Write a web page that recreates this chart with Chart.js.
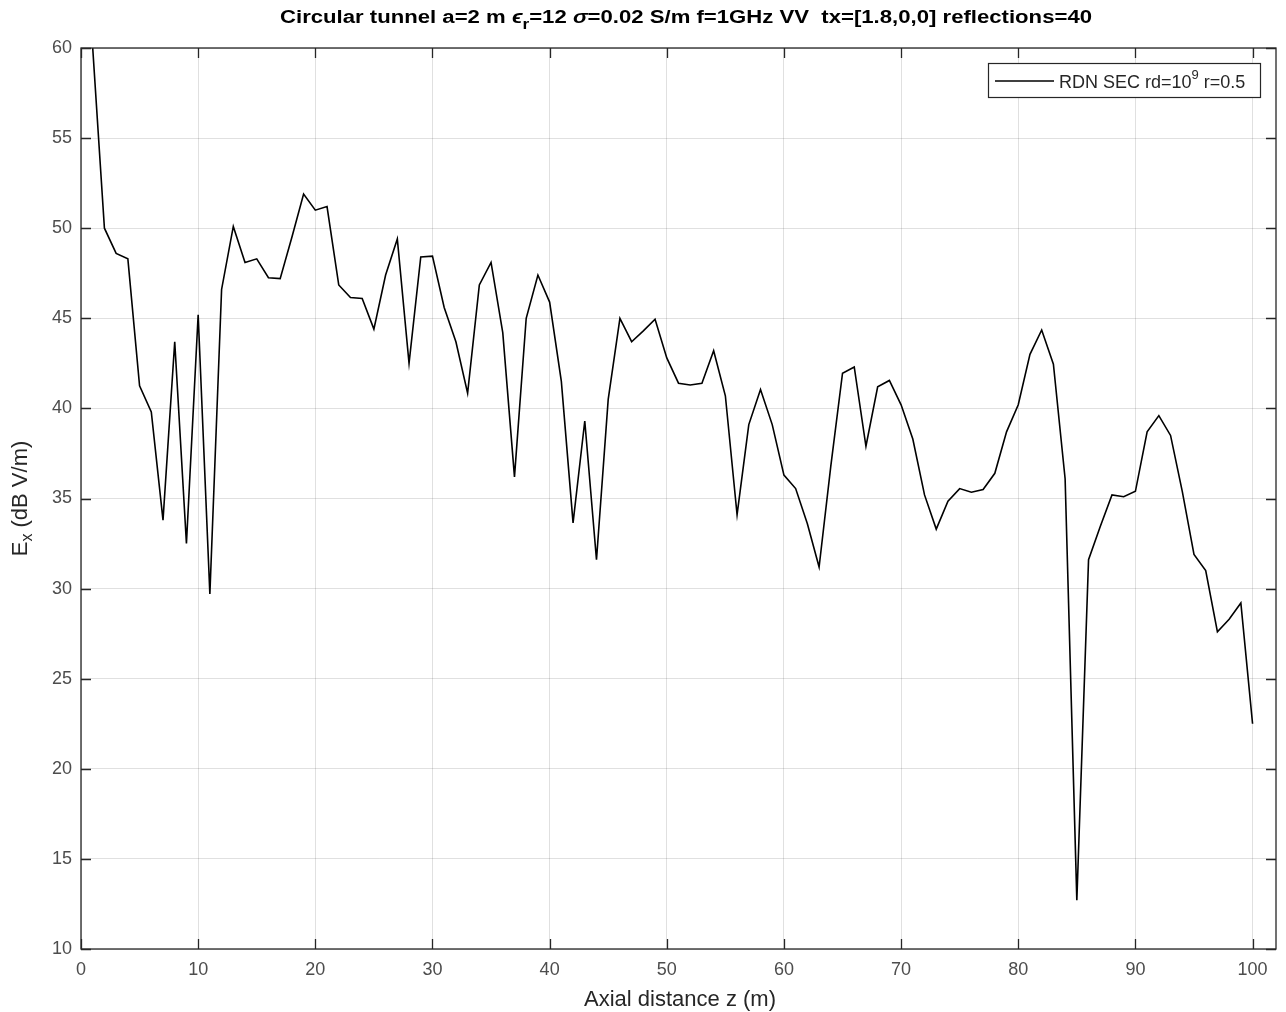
<!DOCTYPE html>
<html>
<head>
<meta charset="utf-8">
<script src="https://cdn.jsdelivr.net/npm/chart.js@4"></script>
<style>
  html, body { margin: 0; padding: 0; background: #fff; }
  canvas { display: block; }
</style>
</head>
<body>
<canvas id="grafico" width="1286" height="1012"></canvas>
<script>
// axial distance z (m), one sample per metre
const zPos = Array.from({ length: 100 }, (_, i) => i + 1);

// Ex (dB V/m)
const exField = [
  60.0, 50.0, 48.6, 48.3, 41.25, 39.8, 33.8, 43.7, 32.5, 45.2,
  29.7, 46.6, 50.1, 48.1, 48.3, 47.25, 47.2, 49.5, 51.9, 51.0,
  51.2, 46.85, 46.15, 46.1, 44.4, 47.4, 49.4, 42.5, 48.4, 48.45,
  45.6, 43.7, 40.85, 46.85, 48.1, 44.2, 36.2, 45.0, 47.4, 45.9,
  41.5, 33.65, 39.3, 31.6, 40.5, 45.0, 43.7, 44.3, 44.95, 42.8,
  41.4, 41.3, 41.4, 43.2, 40.7, 34.1, 39.1, 41.05, 39.1, 36.3,
  35.55, 33.6, 31.2, 36.8, 41.95, 42.3, 37.9, 41.2, 41.55, 40.2,
  38.3, 35.2, 33.3, 34.85, 35.55, 35.35, 35.5, 36.4, 38.7, 40.2,
  43.0, 44.35, 42.45, 36.1, 12.7, 31.6, 33.45, 35.2, 35.1, 35.4,
  38.7, 39.6, 38.5, 35.4, 31.9, 31.0, 27.6, 28.3, 29.2, 22.5
];

const xTicks = [0, 10, 20, 30, 40, 50, 60, 70, 80, 90, 100];
const yTicks = [10, 15, 20, 25, 30, 35, 40, 45, 50, 55, 60];

const FONT = '"Liberation Sans", Arial, Helvetica, sans-serif';
const AXIS_COLOR = '#262626';

// draws text pieces one after another: [text, size, weight, style, dy]
function drawPieces(ctx, pieces, x, y, align, fitWidth) {
  const widths = pieces.map(p => {
    ctx.font = `${p[3] || 'normal'} ${p[2] || 'normal'} ${p[1]}px ${FONT}`;
    return ctx.measureText(p[0]).width;
  });
  const total = widths.reduce((a, b) => a + b, 0);
  const sx = fitWidth ? fitWidth / total : 1;
  let start = align === 'center' ? x - total * sx / 2 : x;
  ctx.save();
  ctx.translate(start, y);
  ctx.scale(sx, 1);
  let cx = 0;
  pieces.forEach((p, i) => {
    ctx.font = `${p[3] || 'normal'} ${p[2] || 'normal'} ${p[1]}px ${FONT}`;
    ctx.fillText(p[0], cx, p[4] || 0);
    cx += widths[i];
  });
  ctx.restore();
}

const decorPlugin = {
  id: 'decor',
  afterDraw(chart) {
    const ctx = chart.ctx;
    const a = chart.chartArea;
    const xs = chart.scales.x;
    const ys = chart.scales.y;

    ctx.save();
    // box and inward ticks
    ctx.strokeStyle = AXIS_COLOR;
    ctx.lineWidth = 1.3;
    ctx.strokeRect(a.left, a.top, a.right - a.left, a.bottom - a.top);
    ctx.beginPath();
    xTicks.forEach(v => {
      const px = Math.round(xs.getPixelForValue(v)) + 0.5;
      ctx.moveTo(px, a.bottom); ctx.lineTo(px, a.bottom - 10);
      ctx.moveTo(px, a.top); ctx.lineTo(px, a.top + 10);
    });
    yTicks.forEach(v => {
      const py = Math.round(ys.getPixelForValue(v)) + 0.5;
      ctx.moveTo(a.left, py); ctx.lineTo(a.left + 10, py);
      ctx.moveTo(a.right, py); ctx.lineTo(a.right - 10, py);
    });
    ctx.stroke();

    // title
    ctx.fillStyle = '#000';
    ctx.textBaseline = 'middle';
    drawPieces(ctx, [
      ['Circular tunnel a=2 m ', 18, 'bold'],
      ['\u03F5', 18, 'bold', 'italic'],
      ['r', 14, 'bold', 'normal', 7],
      ['=12 ', 18, 'bold'],
      ['\u03C3', 18, 'bold', 'italic'],
      ['=0.02 S/m f=1GHz VV  tx=[1.8,0,0] reflections=40', 18, 'bold']
    ], 686, 18, 'center', 812);

    // axis labels
    ctx.fillStyle = AXIS_COLOR;
    ctx.textAlign = 'left';
    drawPieces(ctx, [['Axial distance z (m)', 22]], 680, 1000, 'center');
    ctx.save();
    ctx.translate(21, (a.top + a.bottom) / 2);
    ctx.rotate(-Math.PI / 2);
    drawPieces(ctx, [
      ['E', 22], ['x', 16, 'normal', 'normal', 7], [' (dB V/m)', 22]
    ], 0, 0, 'center');
    ctx.restore();

    // legend
    const lx = 988, ly = 63, lw = 272, lh = 34;
    ctx.fillStyle = '#fff';
    ctx.fillRect(lx, ly, lw, lh);
    ctx.strokeStyle = AXIS_COLOR;
    ctx.lineWidth = 1.2;
    ctx.strokeRect(lx + 0.5, ly + 0.5, lw, lh);
    ctx.strokeStyle = '#000';
    ctx.lineWidth = 1.5;
    ctx.beginPath();
    ctx.moveTo(995, 81); ctx.lineTo(1054, 81);
    ctx.stroke();
    ctx.fillStyle = AXIS_COLOR;
    drawPieces(ctx, [
      ['RDN SEC rd=10', 18], ['9', 13, 'normal', 'normal', -8], [' r=0.5', 18]
    ], 1059, 83, 'left');
    ctx.restore();
  }
};

const ctx = document.getElementById('grafico').getContext('2d');

const grafico = new Chart(ctx, {
  type: 'line',
  data: {
    datasets: [{
      label: 'RDN SEC rd=10^9 r=0.5',
      data: zPos.map((z, i) => ({ x: z, y: exField[i] })),
      borderColor: '#000',
      borderWidth: 1.6,
      pointRadius: 0,
      tension: 0,
      fill: false
    }]
  },
  options: {
    responsive: false,
    animation: false,
    events: [],
    layout: { padding: { top: 48, right: 10, left: 0, bottom: 0 } },
    plugins: {
      legend: { display: false },
      title: { display: false },
      tooltip: { enabled: false }
    },
    scales: {
      x: {
        type: 'linear',
        min: 0,
        max: 102,
        afterBuildTicks: s => { s.ticks = xTicks.map(v => ({ value: v })); },
        afterFit: s => { s.height = 63; },
        border: { display: false },
        grid: { color: 'rgba(0,0,0,0.12)', drawTicks: false },
        ticks: {
          padding: 10,
          color: '#4d4d4d',
          font: { family: FONT, size: 18 },
          maxRotation: 0,
          autoSkip: false
        }
      },
      y: {
        type: 'linear',
        min: 10,
        max: 60,
        afterBuildTicks: s => { s.ticks = yTicks.map(v => ({ value: v })); },
        afterFit: s => { s.width = 81; },
        border: { display: false },
        grid: { color: 'rgba(0,0,0,0.12)', drawTicks: false },
        ticks: {
          padding: 9,
          color: '#4d4d4d',
          font: { family: FONT, size: 18 }
        }
      }
    }
  },
  plugins: [decorPlugin]
});
</script>
</body>
</html>
